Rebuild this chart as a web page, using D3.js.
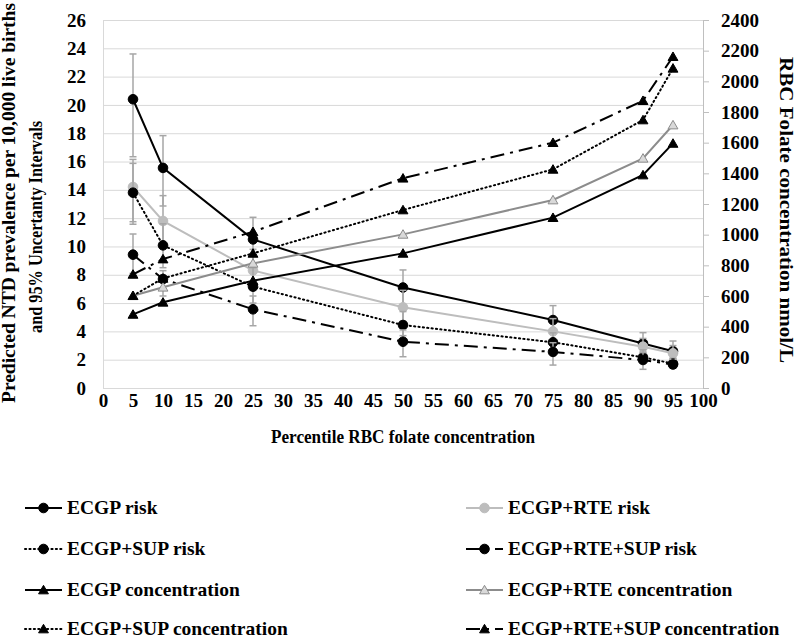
<!DOCTYPE html>
<html>
<head>
<meta charset="utf-8">
<script src="https://cdn.jsdelivr.net/npm/d3@7"></script>
<style>
  html, body { margin: 0; padding: 0; background: #fff; }
  svg { display: block; }
  text { font-family: "Liberation Serif", "Times New Roman", serif; font-weight: bold; fill: #000; }
</style>
</head>
<body>
<svg id="chart" width="800" height="641"></svg>
<script>
// ---------------- data ----------------
const percentiles = [5, 10, 25, 50, 75, 90, 95];
const xTicks = d3.range(0, 101, 5);
const leftTicks = d3.range(0, 27, 2);
const rightTicks = d3.range(0, 2401, 200);

const riskECGP        = [20.4, 15.55, 10.5, 7.1, 4.8, 3.15, 2.6];
const riskECGP_RTE    = [14.2, 11.8, 8.3, 5.7, 4.0, 2.92, 2.45];
const riskECGP_SUP    = [13.8, 10.08, 7.16, 4.45, 3.23, 2.17, 1.72];
const riskECGP_RTE_SUP= [9.42, 7.7, 5.56, 3.27, 2.55, 1.98, 1.66];

const lowECGP         = [16.34, 12.86, 8.8, 5.9, 3.9, 2.55, 2.1];
const highECGP        = [23.6, 17.83, 12.06, 8.34, 5.82, 3.91, 3.32];
const lowECGP_RTE     = [11.75, 9.9, 6.9, 4.7, 3.3, 2.4, 2.0];
const highECGP_RTE    = [16.15, 13.59, 9.8, 6.9, 4.9, 3.5, 3.0];
const lowECGP_SUP     = [11.57, 8.5, 6.0, 3.7, 2.6, 1.75, 1.4];
const highECGP_SUP    = [15.87, 11.6, 8.5, 5.4, 3.9, 2.7, 2.1];
const lowECGP_RTE_SUP = [8.1, 6.5, 4.4, 2.21, 1.62, 1.32, 1.45];
const highECGP_RTE_SUP= [10.88, 8.29, 6.5, 4.1, 3.2, 2.5, 2.0];

const concECGP        = [480, 559, 700, 878, 1111, 1389, 1595];
const concECGP_RTE    = [602, 657, 813, 1002, 1226, 1498, 1715];
const concECGP_SUP    = [602, 715, 878, 1161, 1426, 1748, 2085];
const concECGP_RTE_SUP= [741, 841, 1019, 1368, 1600, 1874, 2161];

const seriesNames = ["ECGP risk", "ECGP+RTE risk", "ECGP+SUP risk", "ECGP+RTE+SUP risk",
                     "ECGP concentration", "ECGP+RTE concentration", "ECGP+SUP concentration", "ECGP+RTE+SUP concentration"];

// ---------------- styles ----------------
const DOT = "1.2,3.2";
const DASHDOT = "14,6,3,6";
const series = [
  {name: seriesNames[0], vals: riskECGP, lo: lowECGP, hi: highECGP, axis: "L", color: "#000", dash: null, marker: "circle", fill: "#000", mstroke: "#000"},
  {name: seriesNames[1], vals: riskECGP_RTE, lo: lowECGP_RTE, hi: highECGP_RTE, axis: "L", color: "#bdbdbd", dash: null, marker: "circle", fill: "#bdbdbd", mstroke: "#bdbdbd"},
  {name: seriesNames[2], vals: riskECGP_SUP, lo: lowECGP_SUP, hi: highECGP_SUP, axis: "L", color: "#000", dash: DOT, marker: "circle", fill: "#000", mstroke: "#000"},
  {name: seriesNames[3], vals: riskECGP_RTE_SUP, lo: lowECGP_RTE_SUP, hi: highECGP_RTE_SUP, axis: "L", color: "#000", dash: DASHDOT, marker: "circle", fill: "#000", mstroke: "#000"},
  {name: seriesNames[4], vals: concECGP, axis: "R", color: "#000", dash: null, marker: "triangle", fill: "#000", mstroke: "#000"},
  {name: seriesNames[5], vals: concECGP_RTE, axis: "R", color: "#8c8c8c", dash: null, marker: "triangle", fill: "#d9d9d9", mstroke: "#8c8c8c"},
  {name: seriesNames[6], vals: concECGP_SUP, axis: "R", color: "#000", dash: DOT, marker: "triangle", fill: "#000", mstroke: "#000"},
  {name: seriesNames[7], vals: concECGP_RTE_SUP, axis: "R", color: "#000", dash: DASHDOT, marker: "triangle", fill: "#000", mstroke: "#000"}
];

// ---------------- layout ----------------
const svg = d3.select("#chart");
const x = d3.scaleLinear().domain([0, 100]).range([103, 703]);
const yL = d3.scaleLinear().domain([0, 26]).range([388, 20]);
const yR = d3.scaleLinear().domain([0, 2400]).range([388, 20]);

// gridlines
svg.append("g")
  .attr("transform", "translate(103,0)")
  .call(d3.axisLeft(yL).tickValues(leftTicks).tickSize(-600).tickFormat(""))
  .call(g => g.select(".domain").remove())
  .call(g => g.selectAll("line").attr("stroke", "#d9d9d9").attr("stroke-width", 1));

// left axis
svg.append("g")
  .attr("transform", "translate(103,0)")
  .call(d3.axisLeft(yL).tickValues(leftTicks).tickSize(0).tickPadding(17))
  .call(g => g.select(".domain").attr("stroke", "#d9d9d9"))
  .call(g => g.selectAll("text").style("font-size", "19px").attr("fill", "#000"));

// bottom axis
svg.append("g")
  .attr("transform", "translate(0,388)")
  .call(d3.axisBottom(x).tickValues(xTicks).tickSize(0).tickPadding(6))
  .call(g => g.select(".domain").attr("stroke", "#d9d9d9"))
  .call(g => g.selectAll("text").style("font-size", "19px").attr("fill", "#000"));

// right axis
svg.append("g")
  .attr("transform", "translate(703,0)")
  .call(d3.axisRight(yR).tickValues(rightTicks).tickSize(6).tickPadding(12).tickFormat(d3.format("d")))
  .call(g => g.select(".domain").attr("stroke", "#bfbfbf"))
  .call(g => g.selectAll("line").attr("stroke", "#bfbfbf"))
  .call(g => g.selectAll("text").style("font-size", "19px").attr("fill", "#000"));

// axis titles
svg.append("text")
  .attr("transform", "translate(15,203) rotate(-90)")
  .attr("text-anchor", "middle")
  .style("font-size", "18px")
  .attr("textLength", 400).attr("lengthAdjust", "spacingAndGlyphs")
  .text("Predicted NTD prevalence per 10,000 live births");
svg.append("text")
  .attr("transform", "translate(42,227) rotate(-90)")
  .attr("text-anchor", "middle")
  .style("font-size", "18px")
  .attr("textLength", 212).attr("lengthAdjust", "spacingAndGlyphs")
  .text("and 95% Uncertanty Intervals");
svg.append("text")
  .attr("transform", "translate(780,210) rotate(90)")
  .attr("text-anchor", "middle")
  .style("font-size", "19px")
  .attr("textLength", 306).attr("lengthAdjust", "spacingAndGlyphs")
  .text("RBC Folate concentration nmol/L");
svg.append("text")
  .attr("x", 403).attr("y", 443)
  .attr("text-anchor", "middle")
  .style("font-size", "18px")
  .attr("textLength", 264).attr("lengthAdjust", "spacingAndGlyphs")
  .text("Percentile RBC folate concentration");

// ---------------- series ----------------
const plot = svg.append("g");
const triangle = d3.symbol().type(d3.symbolTriangle).size(42);

function drawMarker(g, s, cx, cy) {
  if (s.marker === "circle") {
    g.append("circle").attr("cx", cx).attr("cy", cy).attr("r", 4.8)
      .attr("fill", s.fill).attr("stroke", s.mstroke).attr("stroke-width", 1);
  } else {
    g.append("path").attr("d", triangle()).attr("transform", `translate(${cx},${cy + 1})`)
      .attr("fill", s.fill).attr("stroke", s.mstroke).attr("stroke-width", 1);
  }
}

series.forEach(s => {
  const y = s.axis === "L" ? yL : yR;
  const pts = percentiles.map((p, i) => [x(p), y(s.vals[i])]);
  const g = plot.append("g");
  // error bars
  if (s.lo) {
    percentiles.forEach((p, i) => {
      const px = x(p);
      g.append("line").attr("x1", px).attr("x2", px).attr("y1", y(s.lo[i])).attr("y2", y(s.hi[i]))
        .attr("stroke", "#a6a6a6").attr("stroke-width", 1.5);
      [s.lo[i], s.hi[i]].forEach(v => {
        g.append("line").attr("x1", px - 3.5).attr("x2", px + 3.5).attr("y1", y(v)).attr("y2", y(v))
          .attr("stroke", "#a6a6a6").attr("stroke-width", 1.5);
      });
    });
  }
  g.append("path").datum(pts)
    .attr("d", d3.line())
    .attr("fill", "none")
    .attr("stroke", s.color)
    .attr("stroke-width", 2)
    .attr("stroke-dasharray", s.dash)
    .attr("stroke-linecap", s.dash === DOT ? "round" : "butt");
  pts.forEach(([cx, cy]) => drawMarker(g, s, cx, cy));
});

// ---------------- legend ----------------
const legendRows = [508, 549, 590, 629];
const legendCols = [{x0: 25, x1: 62, tx: 67}, {x0: 466, x1: 503, tx: 508}];
series.forEach((s, i) => {
  const row = Math.floor(i / 2), col = i % 2;
  const cy = legendRows[row], c = legendCols[col];
  const g = svg.append("g");
  g.append("line").attr("x1", c.x0).attr("x2", c.x1).attr("y1", cy).attr("y2", cy)
    .attr("stroke", s.color).attr("stroke-width", 2)
    .attr("stroke-dasharray", s.dash)
    .attr("stroke-linecap", s.dash === DOT ? "round" : "butt");
  drawMarker(g, s, (c.x0 + c.x1) / 2, cy);
  g.append("text").attr("x", c.tx).attr("y", cy + 6)
    .style("font-size", "19.5px")
    .text(s.name);
});
</script>
</body>
</html>
